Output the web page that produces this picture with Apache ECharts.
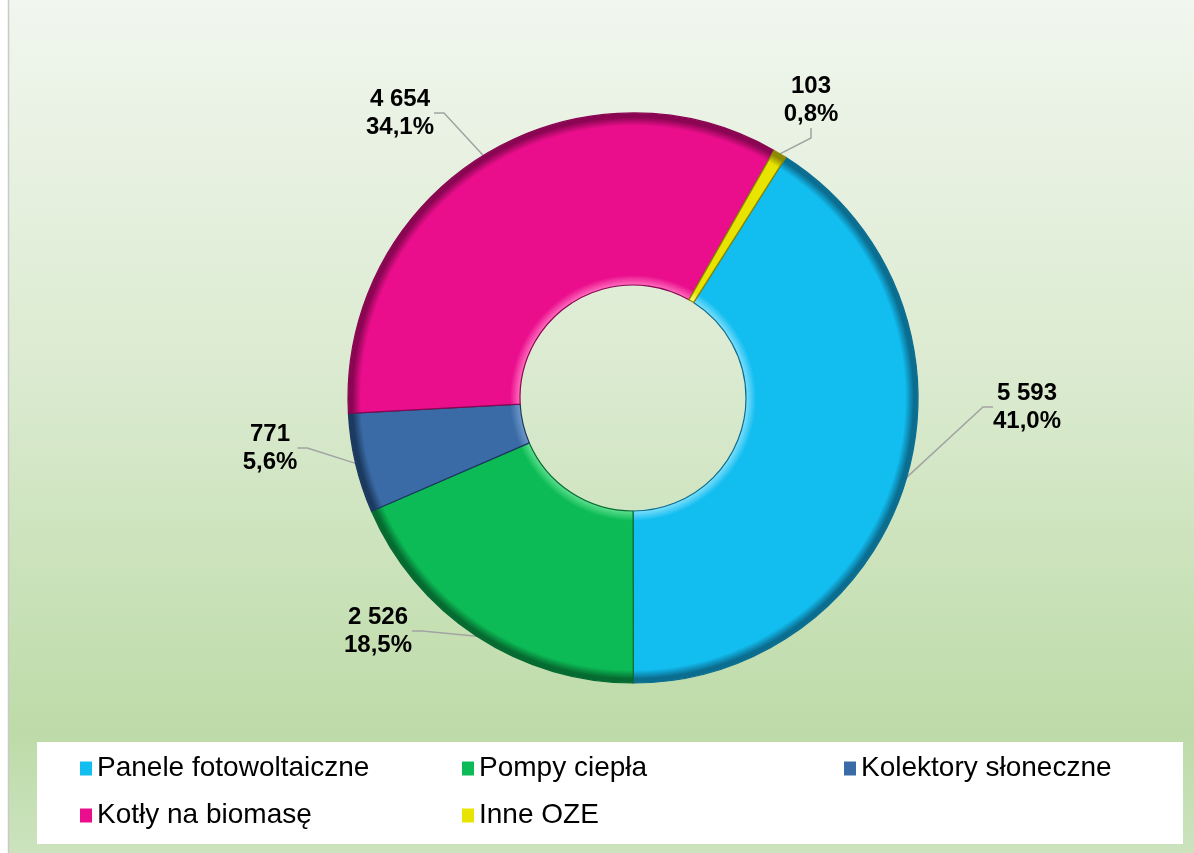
<!DOCTYPE html>
<html>
<head>
<meta charset="utf-8">
<script src="https://cdn.jsdelivr.net/npm/echarts@6/dist/echarts.min.js"></script>
<style>
  html, body { margin: 0; padding: 0; background: #fff; }
  #main { width: 1194px; height: 853px; }
</style>
</head>
<body>
<div id="main"></div>
<script>
var chartDom = document.getElementById("main");
var myChart = echarts.init(chartDom);

// data
var categories = ["Panele fotowoltaiczne", "Pompy ciepła", "Kolektory słoneczne", "Kotły na biomasę", "Inne OZE"];
var values = [5593, 2526, 771, 4654, 103];
var baseColors = ["#12BDF0", "#0CBB55", "#3A6BA6", "#EA0E8C", "#E8E400"];
var lightColors = ["#7EDFFC", "#5EE08F", "#6F98C8", "#FF6EBE", "#FFFF80"];
var darkColors = ["#0B6E90", "#066B31", "#1C3A60", "#8A0652", "#8C8900"];

// label centres (layout only)
var labelPos = [[1027, 407], [378, 631], [270, 448], [400, 113], [811, 100]];

var cx = 633, cy = 398, rIn = 113, rOut = 285;

var total = values.reduce(function(a, b) { return a + b; }, 0);

function fmtNum(v) {
	return String(v).replace(/\B(?=(\d{3})+(?!\d))/g, " ");
}

function sliceColor(i) {
	var k = rIn / rOut;
	return {
		type: 'radial', x: cx, y: cy, r: rOut, global: true,
		colorStops: [
			{ offset: 0, color: baseColors[i] },
			{ offset: k, color: lightColors[i] },
			{ offset: k + 0.035, color: baseColors[i] },
			{ offset: 0.955, color: baseColors[i] },
			{ offset: 0.985, color: darkColors[i] },
			{ offset: 1, color: darkColors[i] }
		]
	};
}

var pieData = categories.map(function(name, i) {
	return {
		name: name,
		value: values[i],
		itemStyle: { color: sliceColor(i), borderColor: darkColors[i] }
	};
});

var legendData = categories.map(function(name, i) {
	return {
		name: name,
		itemStyle: { color: baseColors[i], borderWidth: 0 },
		textStyle: { width: i === 2 ? 300 : 355 }
	};
});

var option = {
	backgroundColor: {
		type: 'linear', x: 0, y: 0, x2: 0, y2: 1,
		colorStops: [
			{ offset: 0, color: '#F1F6EE' },
			{ offset: 0.45, color: '#DAEACF' },
			{ offset: 0.86, color: '#BDDBA8' },
			{ offset: 1, color: '#CCE3BE' }
		]
	},
	graphic: [
		{ type: 'rect', shape: { x: 0, y: 0, width: 8, height: 853 }, style: { fill: '#ffffff' }, silent: true },
		{ type: 'line', shape: { x1: 8.5, y1: 0, x2: 8.5, y2: 853 }, style: { stroke: '#C9C9C9', lineWidth: 1.5 }, silent: true }
	],
	legend: {
		data: legendData,
		left: 37,
		top: 742,
		width: 1147,
		padding: [8, 22, 10, 43],
		backgroundColor: '#ffffff',
		itemWidth: 12,
		itemHeight: 14,
		itemGap: 10,
		icon: 'rect',
		itemStyle: { borderWidth: 0 },
		textStyle: {
			fontFamily: 'Liberation Sans, Arial, sans-serif',
			fontSize: 28,
			color: '#000',
			lineHeight: 37
		}
	},
	series: [{
		type: 'pie',
		center: [cx, cy],
		radius: [rIn, rOut],
		startAngle: 90 - 32.4,
		clockwise: true,
		avoidLabelOverlap: false,
		itemStyle: { borderWidth: 1.2 },
		emphasis: { disabled: true },
		label: {
			show: true,
			position: 'outside',
			fontFamily: 'Liberation Sans, Arial, sans-serif',
			fontSize: 24,
			fontWeight: 'bold',
			color: '#000',
			lineHeight: 28,
			align: 'center',
			formatter: function(p) {
				var pct = (p.value / total * 100).toFixed(1).replace('.', ',');
				return fmtNum(p.value) + "\n" + pct + "%";
			}
		},
		labelLine: {
			show: true,
			length: 20,
			length2: 10,
			lineStyle: { color: '#A3A3A3', width: 1.5 }
		},
		labelLayout: function(params) {
			var pos = labelPos[params.dataIndex];
			return { x: pos[0], y: pos[1], align: 'center', verticalAlign: 'middle' };
		},
		data: pieData
	}]
};

myChart.setOption(option);
</script>
</body>
</html>
